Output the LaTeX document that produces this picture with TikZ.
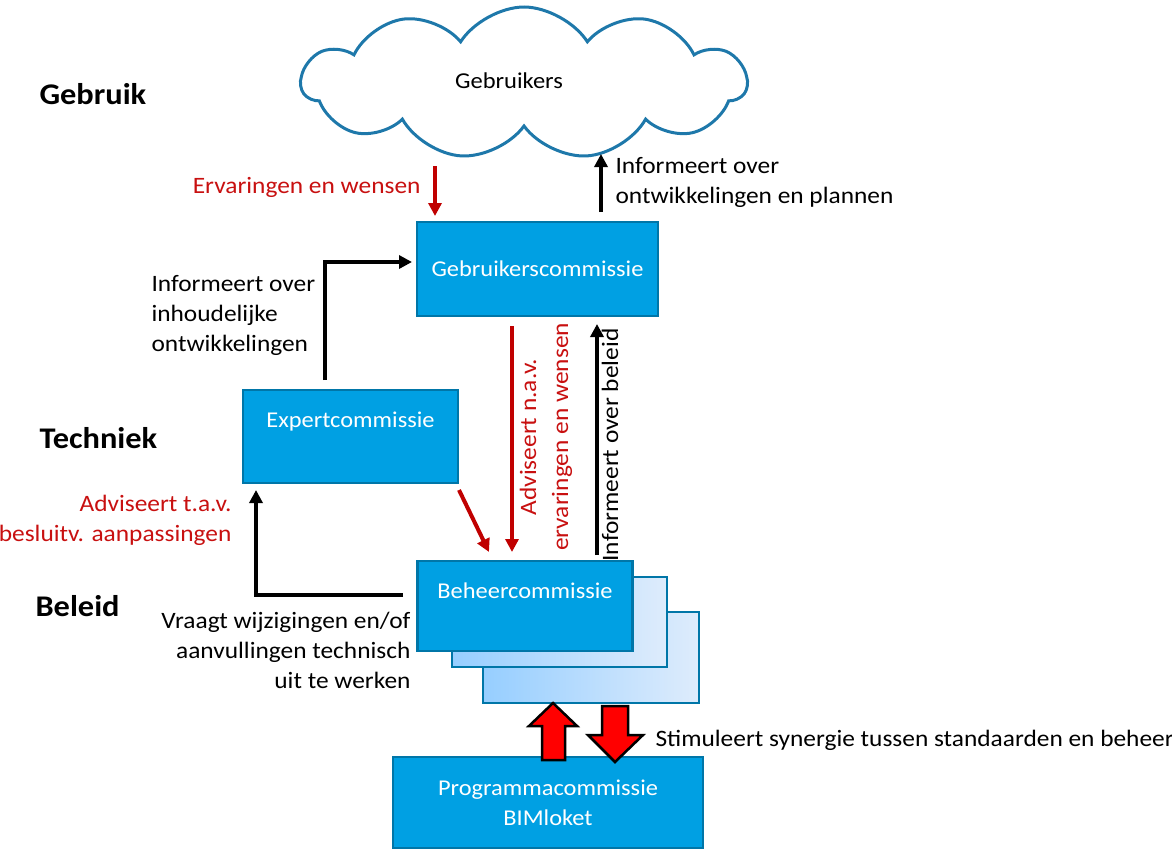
\documentclass[tikz,border=0pt]{standalone}
\usepackage{fontspec}
\setmainfont{Carlito}[FakeStretch=1.08]
\usetikzlibrary{arrows.meta,shapes.symbols}
\definecolor{boxblue}{RGB}{0,160,227}
\definecolor{boxedge}{RGB}{0,118,168}
\definecolor{cloudblue}{RGB}{30,120,170}
\definecolor{redtxt}{RGB}{200,16,16}
\definecolor{redarr}{RGB}{192,0,0}
\definecolor{lightA}{RGB}{150,206,255}
\definecolor{lightB}{RGB}{222,236,252}
\tikzset{
  box/.style={draw=boxedge, line width=2.5pt, fill=boxblue, text=white, font=\fontsize{22.6}{30}\selectfont, align=center},
  btext/.style={font=\fontsize{22.6}{30}\selectfont, text=white},
  stackbox/.style={draw=boxedge, line width=2.5pt, left color=lightA, right color=lightB},
  head/.style={font=\bfseries\fontsize{30}{34}\selectfont, anchor=west},
  lbl/.style={font=\fontsize{23.5}{30}\selectfont},
  blk/.style={line width=4pt, -{Triangle[length=13pt,width=13pt]}},
  redline/.style={line width=4pt, redarr, -{Triangle[length=13pt,width=13pt]}},
  fat/.style={draw=black, line width=2.5pt, fill=red, line join=miter},
}
\begin{document}
\begin{tikzpicture}[x=1pt,y=-1pt]
\useasboundingbox (0,0) rectangle (1172,851);
% cloud
\node[cloud, draw=cloudblue, line width=3pt, cloud puffs=11, cloud puff arc=115, aspect=3.2, minimum width=445pt, minimum height=152pt] (cloud) at (524,83) {};
\node[font=\fontsize{22.7}{26}\selectfont] (cloudt) at (509,81) {Gebruikers};
% headings
\node[head] (h1) at (36,94) {Gebruik};
\node[head] (h2) at (36,438) {Techniek};
\node[head] (h3) at (32,606) {Beleid};
% boxes
\node[box, minimum width=241pt, minimum height=94pt] (gc) at (537.5,269) {Gebruikerscommissie};
\node[box, minimum width=215pt, minimum height=93pt] (ec) at (350.5,436.5) {};
\node[btext] (ect) at (350.5,422) {Expertcommissie};
\draw[stackbox] (483,612) rectangle (699,703);
\draw[stackbox] (452,577) rectangle (667,667);
\node[box, minimum width=215pt, minimum height=90pt] (bc) at (525,606) {};
\node[btext] (bct) at (525,591) {Beheercommissie};
\node[box, minimum width=310pt, minimum height=91pt] (pc) at (548,802.5) {Programmacommissie\\BIMloket};
% coordinates
\coordinate (r1s) at (435,166);
\coordinate (r1e) at (435,216);
\coordinate (b1s) at (601,212);
\coordinate (b1e) at (601,154);
\coordinate (e1s) at (325,380);
\coordinate (e1c) at (325,262);
\coordinate (e1e) at (412,262);
\coordinate (d1s) at (459,490);
\coordinate (d1e) at (489,552);
\coordinate (r2s) at (512,326);
\coordinate (r2e) at (512,552);
\coordinate (b2s) at (597,555);
\coordinate (b2e) at (597,324);
\coordinate (v1s) at (403,595);
\coordinate (v1c) at (256,595);
\coordinate (v1e) at (256,490);
% arrows
\draw[redline] (r1s) -- (r1e);
\draw[blk] (b1s) -- (b1e);
\draw[blk] (e1s) -- (e1c) -- (e1e);
\draw[redline] (d1s) -- (d1e);
\draw[redline] (r2s) -- (r2e);
\draw[blk] (b2s) -- (b2e);
\draw[blk] (v1s) -- (v1c) -- (v1e);
% fat arrows
\draw[fat] (542,760) -- (542,726) -- (529,726) -- (553,703) -- (577,726) -- (565,726) -- (565,760) -- cycle;
\draw[fat] (602,706) -- (628,706) -- (628,735) -- (643,735) -- (615,762) -- (588,735) -- (602,735) -- cycle;
% labels
\node[lbl, text=redtxt, anchor=east] (l1) at (424,187) {Ervaringen en wensen};
\node[lbl, anchor=west, align=left] (l2) at (612,182) {Informeert over\\ontwikkelingen en plannen};
\node[lbl, anchor=west, align=left] (l3) at (148,315) {Informeert over\\inhoudelijke\\ontwikkelingen};
\node[lbl, text=redtxt, anchor=east, align=right] (l4) at (235,520) {Adviseert t.a.v.\\besluitv. aanpassingen};
\node[lbl, anchor=east, align=right] (l5) at (414,650) {Vraagt wijzigingen en/of\\aanvullingen technisch\\uit te werken};
\node[lbl, text=redtxt, rotate=90, align=center, font=\fontsize{23.5}{32}\selectfont] (l6) at (546,437) {Adviseert n.a.v.\\ervaringen en wensen};
\node[lbl, rotate=90] (l7) at (610,445) {Informeert over beleid};
\node[lbl, anchor=west] (l8) at (652,740) {Stimuleert synergie tussen standaarden en beheer};
\end{tikzpicture}
\end{document}
